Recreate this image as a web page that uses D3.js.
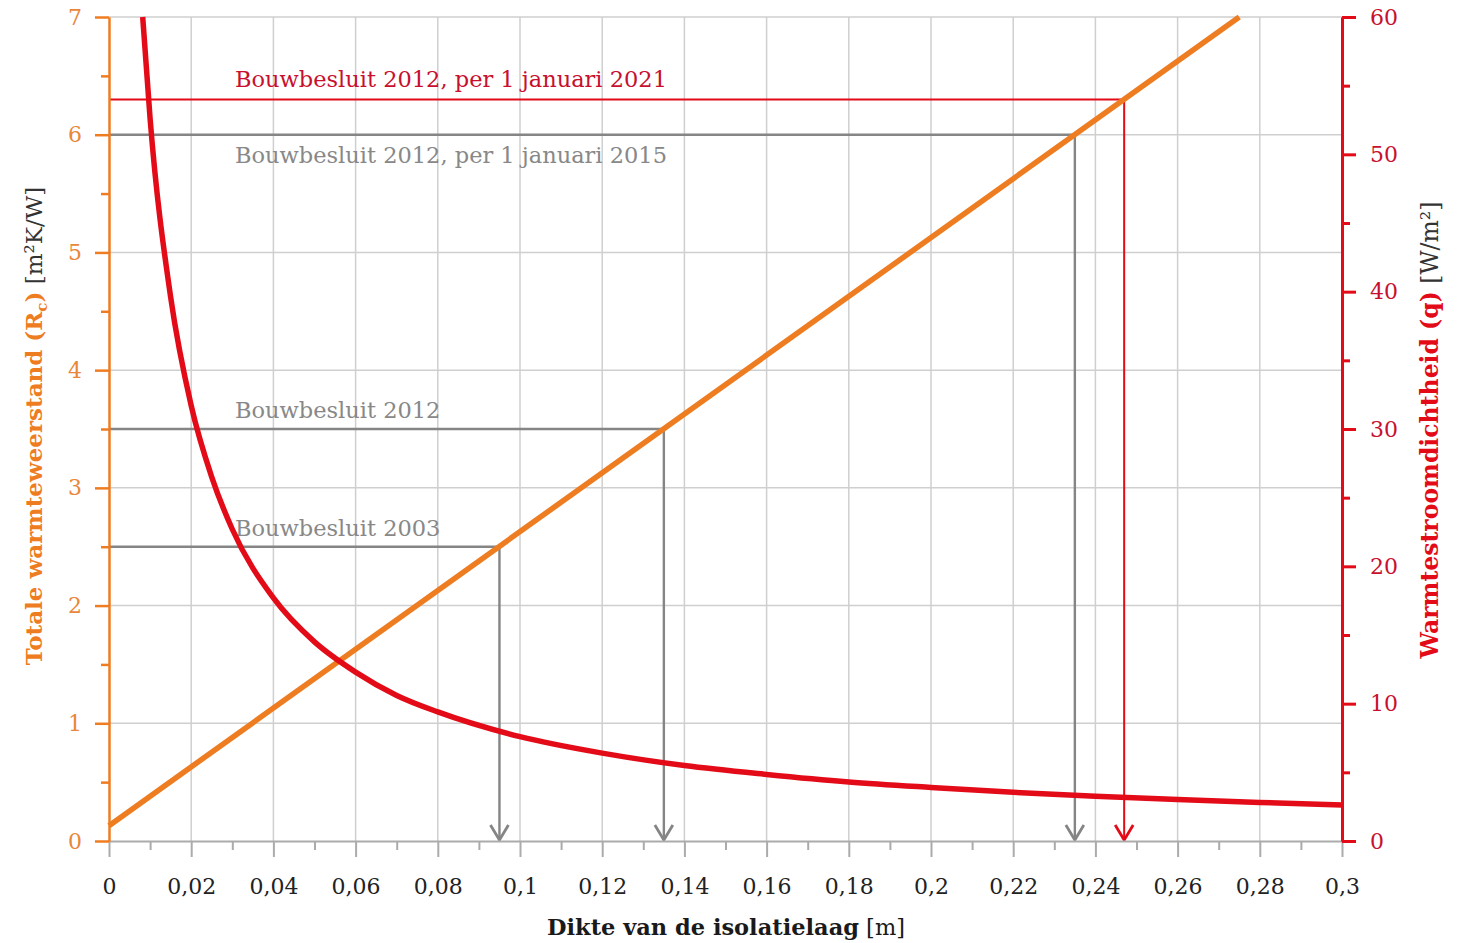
<!DOCTYPE html>
<html>
<head>
<meta charset="utf-8">
<script src="https://cdn.jsdelivr.net/npm/d3@7/dist/d3.min.js"></script>
<style>
  html, body { margin: 0; padding: 0; background: #fff; }
  svg { display: block; }
  text { font-family: "DejaVu Serif", "Liberation Serif", serif; }
</style>
</head>
<body>
<div id="chart"></div>
<script>
'use strict';

/* ── Data ── */
const xTicks = [0, 0.02, 0.04, 0.06, 0.08, 0.1, 0.12, 0.14, 0.16, 0.18, 0.2, 0.22, 0.24, 0.26, 0.28, 0.3];
const xTickLabels = ['0', '0,02', '0,04', '0,06', '0,08', '0,1', '0,12', '0,14', '0,16', '0,18', '0,2', '0,22', '0,24', '0,26', '0,28', '0,3'];
const rcTicks = [0, 1, 2, 3, 4, 5, 6, 7];
const qTicks = [0, 10, 20, 30, 40, 50, 60];

// orange line: total thermal resistance Rc vs thickness
const rcThickness = [0, 0.275];
const rcValues = [0.13, 7];

// red curve: heat flux density q vs thickness
const qThickness = [0.0082, 0.01, 0.015, 0.02, 0.025, 0.03, 0.04, 0.05, 0.06, 0.07, 0.08, 0.1, 0.12, 0.14, 0.16, 0.18, 0.2, 0.22, 0.24, 0.26, 0.28, 0.3];
const qValues = [60, 52.6, 39.6, 31.7, 26.5, 22.7, 17.7, 14.5, 12.3, 10.6, 9.4, 7.6, 6.4, 5.5, 4.85, 4.3, 3.9, 3.55, 3.26, 3.02, 2.81, 2.62];

// requirement lines (Rc level, matching thickness)
const reqLabels = ['Bouwbesluit 2003', 'Bouwbesluit 2012', 'Bouwbesluit 2012, per 1 januari 2015', 'Bouwbesluit 2012, per 1 januari 2021'];
const reqRc = [2.5, 3.5, 6.0, 6.3];
const reqThickness = [0.095, 0.135, 0.235, 0.247];

/* ── Layout ── */
const W = 1458, H = 943;
const pL = 109, pR = 1342, pT = 17, pB = 841;

const ORANGE = '#ee7d22';
const ORANGE_TXT = '#e8873a';
const RED = '#e30b17';
const RED_TXT = '#c8102e';
const GREY = '#858585';
const GRID = '#cfcfcf';

const svg = d3.select('#chart').append('svg')
  .attr('width', W).attr('height', H)
  .attr('viewBox', `0 0 ${W} ${H}`);

const x = d3.scaleLinear().domain([0, 0.3]).range([pL, pR]);
const yL = d3.scaleLinear().domain([0, 7]).range([pB, pT]);
const yR = d3.scaleLinear().domain([0, 60]).range([pB, pT]);

/* ── Grid ── */
const grid = svg.append('g').attr('stroke', GRID).attr('stroke-width', 1.5);
grid.selectAll('line.v').data(xTicks.slice(1, -1)).join('line')
  .attr('class', 'v')
  .attr('x1', d => x(d)).attr('x2', d => x(d))
  .attr('y1', pT).attr('y2', pB);
grid.selectAll('line.h').data(rcTicks.slice(1)).join('line')
  .attr('class', 'h')
  .attr('x1', pL).attr('x2', pR)
  .attr('y1', d => yL(d)).attr('y2', d => yL(d));

/* ── Arrow markers ── */
const defs = svg.append('defs');
function marker(id, color) {
  defs.append('marker')
    .attr('id', id)
    .attr('viewBox', '-17 -11 19 22')
    .attr('markerUnits', 'userSpaceOnUse')
    .attr('markerWidth', 19).attr('markerHeight', 22)
    .attr('refX', 0).attr('refY', 0)
    .attr('orient', 'auto')
    .append('path')
    .attr('d', 'M-15,-9 L0,0 L-15,9')
    .attr('fill', 'none').attr('stroke', color).attr('stroke-width', 2.8);
}
marker('arrow-grey', GREY);
marker('arrow-red', RED);

/* ── Requirement lines ── */
const req = svg.append('g');
reqRc.forEach((rc, i) => {
  const isRed = i === reqRc.length - 1;
  req.append('path')
    .attr('d', d3.line()([[x(0), yL(rc)], [x(reqThickness[i]), yL(rc)], [x(reqThickness[i]), yL(0) - 1]]))
    .attr('fill', 'none')
    .attr('stroke', isRed ? RED : GREY)
    .attr('stroke-width', isRed ? 2 : 2.4)
    .attr('marker-end', `url(#${isRed ? 'arrow-red' : 'arrow-grey'})`);
});

// labels: above the line, except the 2015 one which sits below
const labelDy = [-11, -11, 28, -12];
req.selectAll('text').data(reqLabels).join('text')
  .attr('x', 235)
  .attr('y', (d, i) => yL(reqRc[i]) + labelDy[i])
  .attr('fill', (d, i) => i === 3 ? RED_TXT : '#888')
  .attr('font-size', 22.5)
  .text(d => d);

/* ── Series ── */
svg.append('path')
  .datum(rcThickness.map((d, i) => [d, rcValues[i]]))
  .attr('d', d3.line().x(d => x(d[0])).y(d => yL(d[1])))
  .attr('fill', 'none').attr('stroke', ORANGE).attr('stroke-width', 5.5);

svg.append('path')
  .datum(qThickness.map((d, i) => [d, qValues[i]]))
  .attr('d', d3.line().x(d => x(d[0])).y(d => yR(d[1])).curve(d3.curveMonotoneX))
  .attr('fill', 'none').attr('stroke', RED).attr('stroke-width', 5.5);

/* ── Axes ── */
function styleAxis(g, color, width) {
  g.select('.domain').attr('stroke', color).attr('stroke-width', width);
  g.selectAll('.tick line').attr('stroke', color).attr('stroke-width', width);
}

// bottom
const gx = svg.append('g').attr('transform', `translate(0,${pB})`)
  .call(d3.axisBottom(x).tickValues(xTicks).tickSize(16).tickSizeOuter(0)
    .tickFormat((d, i) => xTickLabels[i]).tickPadding(21));
styleAxis(gx, '#ababab', 2);
gx.selectAll('.tick text').attr('fill', '#222').attr('font-size', 22);
const gxm = svg.append('g').attr('transform', `translate(0,${pB})`)
  .call(d3.axisBottom(x).tickValues(d3.range(0.01, 0.3, 0.02)).tickSize(9).tickFormat(''));
styleAxis(gxm, '#ababab', 2);
gxm.select('.domain').remove();

// left
const gl = svg.append('g').attr('transform', `translate(${pL},0)`)
  .call(d3.axisLeft(yL).tickValues(rcTicks).tickSize(14).tickSizeOuter(0)
    .tickFormat(d3.format('d')).tickPadding(13));
styleAxis(gl, ORANGE, 2.5);
gl.selectAll('.tick text').attr('fill', ORANGE_TXT).attr('font-size', 22);
const glm = svg.append('g').attr('transform', `translate(${pL},0)`)
  .call(d3.axisLeft(yL).tickValues(d3.range(0.5, 7, 1)).tickSize(8).tickFormat(''));
styleAxis(glm, ORANGE, 2.5);
glm.select('.domain').remove();

// right
const gr = svg.append('g').attr('transform', `translate(${pR},0)`)
  .call(d3.axisRight(yR).tickValues(qTicks).tickSize(14).tickSizeOuter(0).tickPadding(14));
styleAxis(gr, RED, 3);
gr.selectAll('.tick text').attr('fill', RED_TXT).attr('font-size', 22);
const grm = svg.append('g').attr('transform', `translate(${pR},0)`)
  .call(d3.axisRight(yR).tickValues(d3.range(5, 60, 10)).tickSize(8).tickFormat(''));
styleAxis(grm, RED, 3);
grm.select('.domain').remove();

/* ── Axis titles ── */
const tb = svg.append('text')
  .attr('x', 726).attr('y', 935)
  .attr('text-anchor', 'middle').attr('font-size', 22.5).attr('fill', '#1a1a1a');
tb.append('tspan').attr('font-weight', 'bold').text('Dikte van de isolatielaag');
tb.append('tspan').text(' [m]');

const tl = svg.append('text')
  .attr('transform', 'translate(42,426) rotate(-90)')
  .attr('text-anchor', 'middle').attr('font-size', 23);
tl.append('tspan').attr('font-weight', 'bold').attr('fill', ORANGE).text('Totale warmteweerstand (R');
tl.append('tspan').attr('font-weight', 'bold').attr('fill', ORANGE).attr('font-size', 15).attr('dy', 5).text('c');
tl.append('tspan').attr('font-weight', 'bold').attr('fill', ORANGE).attr('dy', -5).text(')');
tl.append('tspan').attr('fill', '#333').text(' [m²K/W]');

const tr = svg.append('text')
  .attr('transform', 'translate(1438,430) rotate(-90)')
  .attr('text-anchor', 'middle').attr('font-size', 23.5);
tr.append('tspan').attr('font-weight', 'bold').attr('fill', RED).text('Warmtestroomdichtheid (q)');
tr.append('tspan').attr('fill', '#333').text(' [W/m²]');
</script>
</body>
</html>
